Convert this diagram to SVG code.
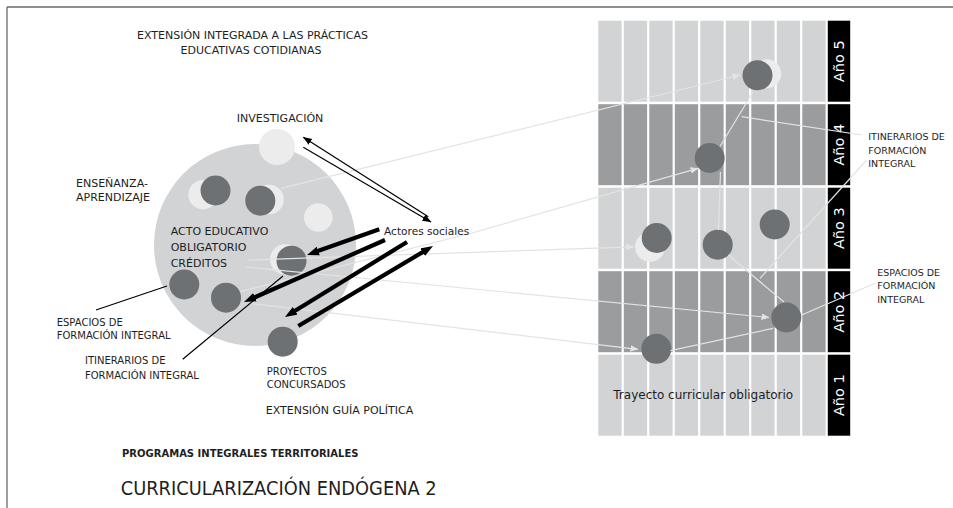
<svg xmlns="http://www.w3.org/2000/svg" width="953" height="508" viewBox="0 0 953 508">
<style>
text{font-family:"DejaVu Sans","Liberation Sans",sans-serif;fill:#1e1e1e}
.lbl{font-size:11px}
.sm{font-size:10px}
.rs{font-size:9.5px}
.yr{font-size:14.5px;fill:#ffffff;text-anchor:middle}
.lt{fill:#d2d3d4}
.dk{fill:#9a9c9d}
.bar{fill:#000000}
.dot{fill:#6e7174}
.pale{fill:#ececec}
.ll{stroke:#e3e3e3;stroke-width:1.2;fill:none}
.la{stroke:#e3e3e3;stroke-width:1.2;fill:none;marker-end:url(#ahl)}
.tn{stroke:#000;stroke-width:1.2;fill:none}
.ta{stroke:#000;stroke-width:1.2;fill:none;marker-end:url(#aht)}
.tk{stroke:#000;stroke-width:4.2;fill:none;marker-end:url(#ahk)}
</style>
<defs>
<marker id="ahl" markerUnits="userSpaceOnUse" markerWidth="8" markerHeight="8" viewBox="0 0 8 8" refX="7.5" refY="4" orient="auto"><path d="M0,0.7 L8,4 L0,7.3 Z" fill="#e3e3e3"/></marker>
<marker id="aht" markerUnits="userSpaceOnUse" markerWidth="9" markerHeight="8" viewBox="0 0 9 8" refX="8.5" refY="4" orient="auto"><path d="M0,0.6 L9,4 L0,7.4 Z" fill="#000"/></marker>
<marker id="ahk" markerUnits="userSpaceOnUse" markerWidth="12" markerHeight="10" viewBox="0 0 12 10" refX="2" refY="5" orient="auto"><path d="M0,0.5 L12,5 L0,9.5 Z" fill="#000"/></marker>
</defs>
<rect width="953" height="508" fill="#ffffff"/>
<g id="frame" stroke="#6a6a6a" stroke-width="1.3" fill="none">
<line x1="7" y1="7" x2="953" y2="7"/>
<line x1="7" y1="7" x2="7" y2="508"/>
</g>
<g id="grid">
<g id="row5" class="lt">
<rect x="598.3" y="20.7" width="23.3" height="81"/><rect x="623.8" y="20.7" width="23.3" height="81"/><rect x="649.3" y="20.7" width="23.3" height="81"/><rect x="674.8" y="20.7" width="23.3" height="81"/><rect x="700.3" y="20.7" width="23.3" height="81"/><rect x="725.8" y="20.7" width="23.3" height="81"/><rect x="751.3" y="20.7" width="23.3" height="81"/><rect x="776.8" y="20.7" width="23.3" height="81"/><rect x="802.3" y="20.7" width="23.3" height="81"/>
</g>
<g id="row4" class="dk">
<rect x="598.3" y="104.2" width="23.3" height="81"/><rect x="623.8" y="104.2" width="23.3" height="81"/><rect x="649.3" y="104.2" width="23.3" height="81"/><rect x="674.8" y="104.2" width="23.3" height="81"/><rect x="700.3" y="104.2" width="23.3" height="81"/><rect x="725.8" y="104.2" width="23.3" height="81"/><rect x="751.3" y="104.2" width="23.3" height="81"/><rect x="776.8" y="104.2" width="23.3" height="81"/><rect x="802.3" y="104.2" width="23.3" height="81"/>
</g>
<g id="row3" class="lt">
<rect x="598.3" y="187.7" width="23.3" height="81"/><rect x="623.8" y="187.7" width="23.3" height="81"/><rect x="649.3" y="187.7" width="23.3" height="81"/><rect x="674.8" y="187.7" width="23.3" height="81"/><rect x="700.3" y="187.7" width="23.3" height="81"/><rect x="725.8" y="187.7" width="23.3" height="81"/><rect x="751.3" y="187.7" width="23.3" height="81"/><rect x="776.8" y="187.7" width="23.3" height="81"/><rect x="802.3" y="187.7" width="23.3" height="81"/>
</g>
<g id="row2" class="dk">
<rect x="598.3" y="271.2" width="23.3" height="81"/><rect x="623.8" y="271.2" width="23.3" height="81"/><rect x="649.3" y="271.2" width="23.3" height="81"/><rect x="674.8" y="271.2" width="23.3" height="81"/><rect x="700.3" y="271.2" width="23.3" height="81"/><rect x="725.8" y="271.2" width="23.3" height="81"/><rect x="751.3" y="271.2" width="23.3" height="81"/><rect x="776.8" y="271.2" width="23.3" height="81"/><rect x="802.3" y="271.2" width="23.3" height="81"/>
</g>
<g id="row1" class="lt">
<rect x="598.3" y="354.7" width="23.3" height="81"/><rect x="623.8" y="354.7" width="23.3" height="81"/><rect x="649.3" y="354.7" width="23.3" height="81"/><rect x="674.8" y="354.7" width="23.3" height="81"/><rect x="700.3" y="354.7" width="23.3" height="81"/><rect x="725.8" y="354.7" width="23.3" height="81"/><rect x="751.3" y="354.7" width="23.3" height="81"/><rect x="776.8" y="354.7" width="23.3" height="81"/><rect x="802.3" y="354.7" width="23.3" height="81"/>
</g>
<g id="year-labels">
<rect class="bar" x="827.8" y="20.7" width="22.4" height="81"/>
<rect class="bar" x="827.8" y="104.2" width="22.4" height="81"/>
<rect class="bar" x="827.8" y="187.7" width="22.4" height="81"/>
<rect class="bar" x="827.8" y="271.2" width="22.4" height="81"/>
<rect class="bar" x="827.8" y="354.7" width="22.4" height="81"/>
<text class="yr" transform="translate(839,61.2) rotate(-90)" y="5.3">Año 5</text>
<text class="yr" transform="translate(839,144.7) rotate(-90)" y="5.3">Año 4</text>
<text class="yr" transform="translate(839,228.2) rotate(-90)" y="5.3">Año 3</text>
<text class="yr" transform="translate(839,311.7) rotate(-90)" y="5.3">Año 2</text>
<text class="yr" transform="translate(839,395.2) rotate(-90)" y="5.3">Año 1</text>
</g>
<text id="trayecto" x="613.3" y="399.3" style="font-size:12px">Trayecto curricular obligatorio</text>
</g>
<g id="big-circle">
<circle cx="255" cy="245" r="101" fill="#d2d3d4"/>
</g>
<g id="node-investigacion">
<circle class="pale" cx="277" cy="147" r="18"/>
<text class="lbl" x="280" y="121.7" text-anchor="middle">INVESTIGACIÓN</text>
</g>
<g id="node-ensenanza">
<circle class="pale" cx="203" cy="194.7" r="14.7"/>
<circle class="dot" cx="215.5" cy="190.5" r="15"/>
<circle class="pale" cx="269" cy="199.5" r="14.8"/>
<circle class="dot" cx="260.3" cy="200.7" r="15"/>
<circle class="pale" cx="318.3" cy="217.5" r="14.3"/>
<text class="lbl" x="76" y="187">ENSEÑANZA-</text>
<text class="lbl" x="76" y="201">APRENDIZAJE</text>
</g>
<g id="node-acto">
<circle class="pale" cx="285" cy="259.3" r="15"/>
<circle class="dot" cx="291.5" cy="260.7" r="15"/>
<text class="lbl" x="170.7" y="235">ACTO EDUCATIVO</text>
<text class="lbl" x="170.7" y="251">OBLIGATORIO</text>
<text class="lbl" x="170.7" y="266.7">CRÉDITOS</text>
</g>
<g id="node-espacios">
<circle class="dot" cx="184.3" cy="284.5" r="15"/>
<text class="sm" x="56.7" y="326">ESPACIOS DE</text>
<text class="sm" x="56.7" y="339">FORMACIÓN INTEGRAL</text>
</g>
<g id="node-itinerarios">
<circle class="dot" cx="226" cy="297.7" r="15"/>
<text class="sm" x="85" y="364">ITINERARIOS DE</text>
<text class="sm" x="85" y="378.7">FORMACIÓN INTEGRAL</text>
</g>
<g id="node-proyectos">
<circle class="dot" cx="282.7" cy="341.7" r="15"/>
<text class="sm" x="266.7" y="375">PROYECTOS</text>
<text class="sm" x="266.7" y="388.3">CONCURSADOS</text>
</g>
<g id="grid-nodes">
<circle class="pale" cx="766.7" cy="73.7" r="14.5"/>
<circle class="dot" cx="757.5" cy="75.3" r="15"/>
<circle class="dot" cx="709.7" cy="158" r="15"/>
<circle class="pale" cx="650" cy="247" r="15"/>
<circle class="dot" cx="656.7" cy="238" r="15"/>
<circle class="dot" cx="717.7" cy="244.7" r="15"/>
<circle class="dot" cx="774.7" cy="224.5" r="15"/>
<circle class="dot" cx="786.3" cy="317.5" r="15"/>
<circle class="dot" cx="656.3" cy="348.8" r="15"/>
</g>
<g id="connectors">
<line class="la" x1="281" y1="188.3" x2="740" y2="75"/>
<path class="la" d="M240,291.7 L472,233 L698,168.3"/>
<line class="la" x1="248" y1="260" x2="633.5" y2="246.8"/>
<line class="la" x1="246" y1="267" x2="769" y2="317.5"/>
<line class="la" x1="250" y1="303.3" x2="638" y2="349.3"/>
<line class="ll" x1="670.5" y1="350.7" x2="773" y2="328.3"/>
<line class="ll" x1="728.3" y1="255" x2="784" y2="302"/>
<line class="ll" x1="720.5" y1="172" x2="718.5" y2="230"/>
<line class="ll" x1="720" y1="146.5" x2="753.3" y2="91.5"/>
<line class="ll" x1="741.7" y1="116.7" x2="862" y2="135"/>
<line class="ll" x1="760" y1="278.3" x2="866.7" y2="160"/>
<line class="ll" x1="801.7" y1="315" x2="875" y2="283.3"/>
<line class="tn" x1="167" y1="286" x2="96" y2="310"/>
<line class="tn" x1="283" y1="276" x2="182.7" y2="359.3"/>
<line class="ta" x1="428.3" y1="216.7" x2="303.3" y2="137.3"/>
<line class="ta" x1="303.3" y1="147.3" x2="431" y2="222"/>
<line class="tk" x1="379.3" y1="229.3" x2="316.4" y2="251.6"/>
<line class="tk" x1="385" y1="240" x2="253.2" y2="298"/>
<line class="tk" x1="407" y1="242" x2="293.5" y2="311.8"/>
<line class="tk" x1="298.3" y1="326" x2="424.4" y2="251.1"/>
</g>
<g id="node-actores">
<text class="lbl" x="384" y="235" style="font-size:10.6px">Actores sociales</text>
</g>
<g id="grid-labels">
<text class="rs" x="868.3" y="140">ITINERARIOS DE</text>
<text class="rs" x="868.3" y="153.5">FORMACIÓN</text>
<text class="rs" x="868.3" y="167">INTEGRAL</text>
<text class="rs" x="877.3" y="276">ESPACIOS DE</text>
<text class="rs" x="877.3" y="289.3">FORMACIÓN</text>
<text class="rs" x="877.3" y="302.7">INTEGRAL</text>
</g>
<g id="titles">
<text class="lbl" x="252.5" y="39.3" text-anchor="middle">EXTENSIÓN INTEGRADA A LAS PRÁCTICAS</text>
<text class="lbl" x="251" y="54" text-anchor="middle">EDUCATIVAS COTIDIANAS</text>
<text class="lbl" x="265.7" y="414">EXTENSIÓN GUÍA POLÍTICA</text>
<text x="122" y="457.3" style="font-size:10px;font-weight:bold">PROGRAMAS INTEGRALES TERRITORIALES</text>
<text x="120.7" y="495" style="font-size:20px" textLength="316" lengthAdjust="spacingAndGlyphs">CURRICULARIZACIÓN ENDÓGENA 2</text>
</g>
</svg>
